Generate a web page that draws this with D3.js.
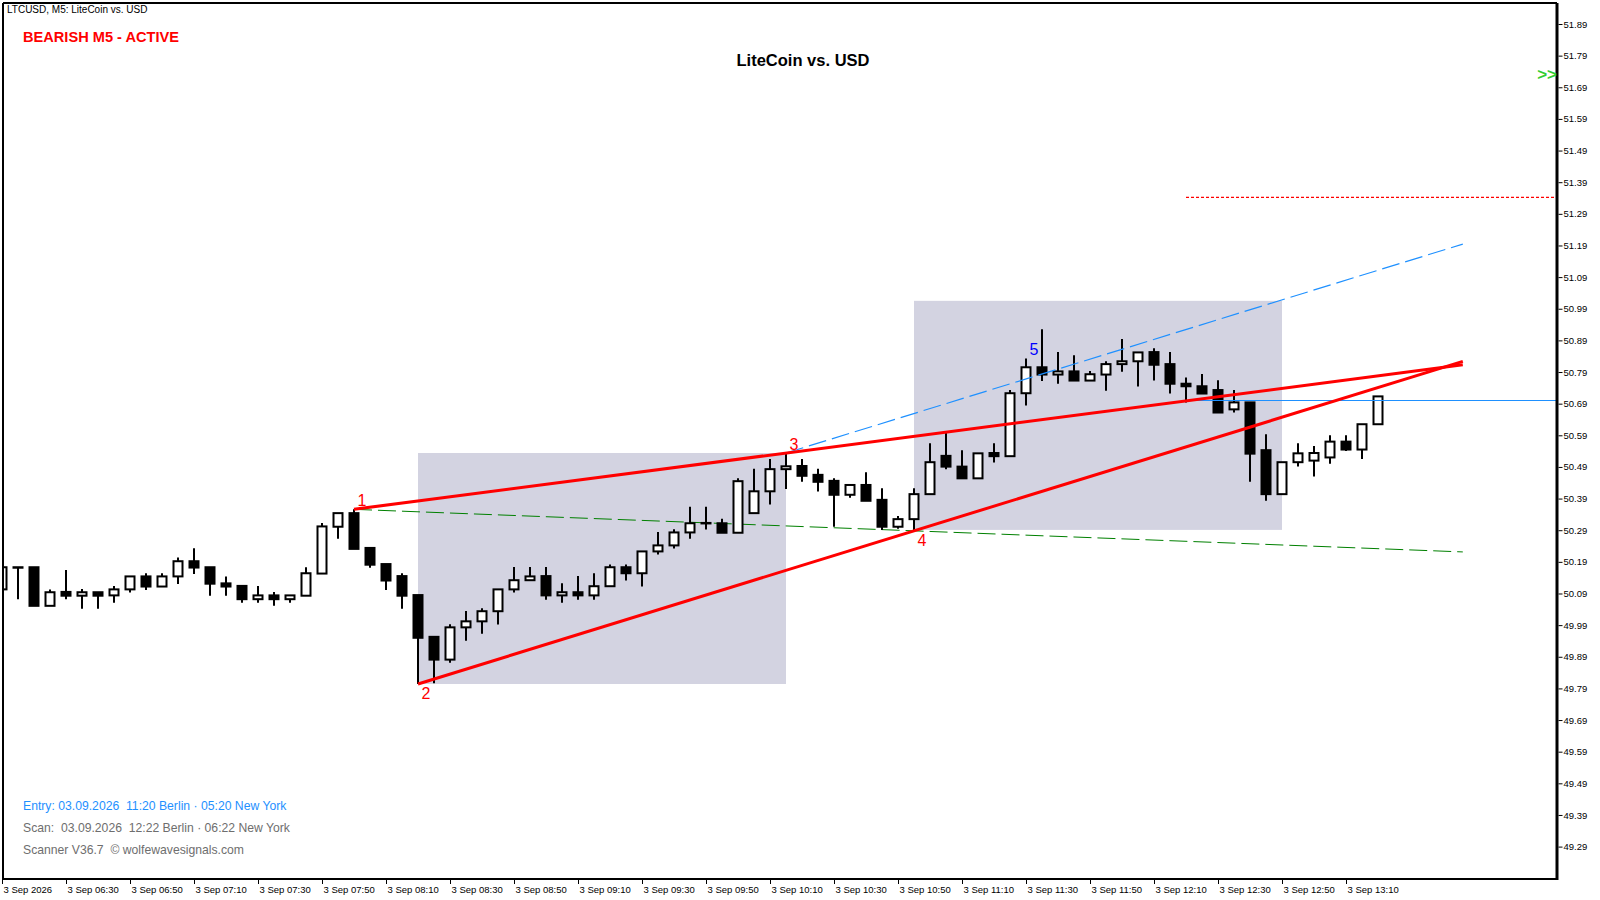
<!DOCTYPE html>
<html><head><meta charset="utf-8">
<script src="https://cdn.jsdelivr.net/npm/d3@7"></script>
<style>
html,body{margin:0;padding:0;background:#fff;}
svg{display:block;}
text{font-family:"Liberation Sans",Arial,sans-serif;}
</style></head>
<body>
<svg id="c" width="1600" height="900"></svg>
<script>
// ---------- DATA ----------
const opens  = [50.103,50.172,50.173,50.051,50.095,50.083,50.094,50.084,50.103,50.144,50.112,50.144,50.192,50.173,50.122,50.114,50.072,50.084,50.072,50.083,
50.153,50.301,50.344,50.234,50.183,50.145,50.085,49.953,49.881,49.983,50.002,50.034,50.103,50.132,50.145,50.084,50.094,50.084,50.113,50.173,
50.154,50.223,50.242,50.283,50.312,50.312,50.282,50.344,50.413,50.483,50.493,50.465,50.446,50.402,50.433,50.386,50.301,50.325,50.404,50.525,
50.491,50.454,50.534,50.524,50.723,50.805,50.782,50.792,50.763,50.782,50.815,50.824,50.853,50.815,50.753,50.745,50.733,50.672,50.694,50.543,
50.404,50.505,50.510,50.520,50.570,50.545,50.625];
const highs  = [50.173,50.173,50.173,50.103,50.164,50.104,50.094,50.114,50.144,50.154,50.154,50.204,50.233,50.173,50.144,50.114,50.114,50.095,50.084,50.173,
50.313,50.344,50.356,50.234,50.183,50.154,50.085,49.953,49.993,50.035,50.043,50.103,50.174,50.174,50.174,50.122,50.145,50.154,50.182,50.182,
50.223,50.284,50.293,50.364,50.364,50.326,50.454,50.484,50.515,50.534,50.515,50.484,50.454,50.433,50.473,50.423,50.335,50.423,50.565,50.598,
50.543,50.533,50.565,50.733,50.833,50.925,50.853,50.843,50.793,50.824,50.894,50.852,50.865,50.853,50.773,50.784,50.764,50.733,50.694,50.593,
50.505,50.565,50.556,50.590,50.590,50.620,50.713];
const lows   = [50.103,50.072,50.051,50.051,50.072,50.042,50.042,50.061,50.093,50.101,50.112,50.120,50.152,50.083,50.083,50.061,50.061,50.051,50.061,50.083,
50.153,50.263,50.231,50.171,50.101,50.042,49.804,49.806,49.871,49.941,49.963,49.992,50.093,50.132,50.070,50.061,50.070,50.070,50.113,50.131,
50.112,50.213,50.232,50.263,50.292,50.282,50.282,50.344,50.371,50.420,50.443,50.412,50.301,50.393,50.383,50.291,50.295,50.288,50.404,50.483,
50.454,50.454,50.504,50.524,50.684,50.762,50.753,50.763,50.763,50.731,50.791,50.744,50.763,50.722,50.694,50.722,50.662,50.662,50.443,50.383,
50.404,50.491,50.460,50.500,50.540,50.515,50.625];
const closes = [50.173,50.173,50.051,50.094,50.083,50.094,50.083,50.103,50.144,50.112,50.144,50.192,50.172,50.121,50.112,50.072,50.084,50.072,50.084,50.154,
50.302,50.344,50.231,50.181,50.131,50.083,49.950,49.881,49.983,50.002,50.034,50.103,50.132,50.144,50.084,50.094,50.084,50.113,50.173,50.154,
50.223,50.242,50.283,50.312,50.313,50.282,50.445,50.413,50.483,50.492,50.462,50.443,50.402,50.433,50.383,50.301,50.325,50.404,50.505,50.491,
50.454,50.533,50.524,50.723,50.805,50.782,50.792,50.763,50.783,50.815,50.824,50.852,50.813,50.753,50.745,50.722,50.662,50.694,50.532,50.404,
50.505,50.533,50.534,50.570,50.545,50.625,50.713];

const priceTicks = [51.89,51.79,51.69,51.59,51.49,51.39,51.29,51.19,51.09,50.99,50.89,50.79,50.69,50.59,50.49,50.39,50.29,50.19,50.09,49.99,49.89,49.79,49.69,49.59,49.49,49.39,49.29];
const timeTickBars = [0,4,8,12,16,20,24,28,32,36,40,44,48,52,56,60,64,68,72,76,80,84];
const timeTickLabels = ["3 Sep 2026","3 Sep 06:30","3 Sep 06:50","3 Sep 07:10","3 Sep 07:30","3 Sep 07:50","3 Sep 08:10","3 Sep 08:30","3 Sep 08:50","3 Sep 09:10","3 Sep 09:30","3 Sep 09:50","3 Sep 10:10","3 Sep 10:30","3 Sep 10:50","3 Sep 11:10","3 Sep 11:30","3 Sep 11:50","3 Sep 12:10","3 Sep 12:30","3 Sep 12:50","3 Sep 13:10"];

// wave points: bar index, price, label
const waveBars   = [22, 26, 49, 57, 64];
const wavePrices = [50.356, 49.804, 50.534, 50.288, 50.834];
const waveLabels = ["1","2","3","4","5"];
const apexBar = 91.3;
const zoneBars   = [[26,49],[57,80]];
const zonePrices = [[50.534,49.804],[51.015,50.291]];
const entryPrice = 50.700, targetPrice = 51.342, levelStartBar = 74;

// ---------- SCALES ----------
const svg = d3.select("#c");
const L = 3, R = 1557, T = 3, B = 879;
const x = d3.scaleLinear().domain([0, 100]).range([2, 1602]);
const y = d3.scaleLinear().domain([49.29, 51.89]).range([846.6, 24]);

svg.append("defs").append("clipPath").attr("id","plot")
  .append("rect").attr("x",L).attr("y",T).attr("width",R-L).attr("height",B-T);
const g = svg.append("g").attr("clip-path","url(#plot)");

// zones
zoneBars.forEach((zb,i)=>{
  g.append("rect").attr("x",x(zb[0])).attr("y",y(zonePrices[i][0]))
   .attr("width",x(zb[1])-x(zb[0])).attr("height",y(zonePrices[i][1])-y(zonePrices[i][0]))
   .attr("fill","#D3D3E1");
});

// line helpers
function lineAt(b0,p0,b1,p1,b){ return p0 + (p1-p0)*(b-b0)/(b1-b0); }
// 1-4 line (green dashed)
g.append("line").attr("x1",x(waveBars[0])).attr("y1",y(wavePrices[0]))
  .attr("x2",x(apexBar)).attr("y2",y(lineAt(waveBars[0],wavePrices[0],waveBars[3],wavePrices[3],apexBar)))
  .attr("stroke","#008000").attr("stroke-width",1).attr("stroke-dasharray","18,6");

// candles
const n = opens.length;
const idx = d3.range(n);
const cg = g.append("g");
cg.selectAll("line.w").data(idx).join("line")
  .attr("x1",i=>x(i)).attr("x2",i=>x(i))
  .attr("y1",i=>y(highs[i])).attr("y2",i=>y(lows[i]))
  .attr("stroke","#000").attr("stroke-width",2);
cg.selectAll("rect.b").data(idx).join("rect")
  .attr("x",i=>x(i)-4.5).attr("width",9)
  .attr("y",i=>y(Math.max(opens[i],closes[i])))
  .attr("height",i=>Math.max(0.5, Math.abs(y(opens[i])-y(closes[i]))))
  .attr("fill",i=>closes[i]>=opens[i]?"#fff":"#000")
  .attr("stroke","#000").attr("stroke-width",2);

// horizontal levels
g.append("line").attr("x1",x(levelStartBar)).attr("x2",R).attr("y1",y(entryPrice)).attr("y2",y(entryPrice))
  .attr("stroke","#1E90FF").attr("stroke-width",1.2);
g.append("line").attr("x1",x(levelStartBar)).attr("x2",R).attr("y1",y(targetPrice)).attr("y2",y(targetPrice))
  .attr("stroke","#FF0000").attr("stroke-width",1.3).attr("stroke-dasharray","3,2");

// 3 line parallel to 2-4 (blue dashed)
const slope24 = (wavePrices[3]-wavePrices[1])/(waveBars[3]-waveBars[1]);
g.append("line").attr("x1",x(waveBars[2])).attr("y1",y(wavePrices[2]))
  .attr("x2",x(apexBar)).attr("y2",y(wavePrices[2]+slope24*(apexBar-waveBars[2])))
  .attr("stroke","#1E90FF").attr("stroke-width",1.2).attr("stroke-dasharray","18,6");

// 1-3 and 2-4 red lines
g.append("line").attr("x1",x(waveBars[0])).attr("y1",y(wavePrices[0]))
  .attr("x2",x(apexBar)).attr("y2",y(lineAt(waveBars[0],wavePrices[0],waveBars[2],wavePrices[2],apexBar)))
  .attr("stroke","#FF0000").attr("stroke-width",3);
g.append("line").attr("x1",x(waveBars[1])).attr("y1",y(wavePrices[1]))
  .attr("x2",x(apexBar)).attr("y2",y(lineAt(waveBars[1],wavePrices[1],waveBars[3],wavePrices[3],apexBar)))
  .attr("stroke","#FF0000").attr("stroke-width",3);

// wave labels
waveLabels.forEach((t,i)=>{
  const up = (i%2===0);
  g.append("text").attr("x",x(waveBars[i])+8).attr("y",y(wavePrices[i]) + (up?-3:15))
   .attr("text-anchor","middle").attr("font-size",16)
   .attr("fill", i===4 ? "#0000FF" : "#FF0000").text(t);
});

// ---------- FRAME & AXES ----------
svg.append("line").attr("x1",L).attr("x2",L).attr("y1",T).attr("y2",B).attr("stroke","#000").attr("stroke-width",2);
svg.append("line").attr("x1",L).attr("x2",R).attr("y1",T).attr("y2",T).attr("stroke","#000").attr("stroke-width",2);
svg.append("line").attr("x1",L).attr("x2",R).attr("y1",B).attr("y2",B).attr("stroke","#000").attr("stroke-width",2);
svg.append("line").attr("x1",R).attr("x2",R).attr("y1",T).attr("y2",B+1).attr("stroke","#000").attr("stroke-width",3);

const ya = d3.axisRight(y).tickValues(priceTicks).tickFormat(d=>d.toFixed(2)).tickSize(4).tickPadding(1);
const yg = svg.append("g").attr("transform",`translate(${R+1.5},0)`).call(ya);
yg.select(".domain").remove();
yg.selectAll("text").attr("font-size",9.5).attr("font-family","'Liberation Sans',Arial,sans-serif").attr("fill","#000");
yg.selectAll("line").attr("stroke","#000");

const xa = d3.axisBottom(x).tickValues(timeTickBars).tickFormat((d,i)=>timeTickLabels[i]).tickSize(5).tickPadding(2);
const xg = svg.append("g").attr("transform",`translate(0,${B})`).call(xa);
xg.select(".domain").remove();
xg.selectAll("text").attr("font-size",9.5).attr("text-anchor","start").attr("dx",1)
  .attr("font-family","'Liberation Sans',Arial,sans-serif").attr("fill","#000");
xg.selectAll("line").attr("stroke","#000");

// ---------- TEXTS ----------
svg.append("text").attr("x",7).attr("y",13).attr("font-size",10).text("LTCUSD, M5:  LiteCoin vs. USD");
svg.append("text").attr("x",23).attr("y",41.5).attr("font-size",14.6).attr("font-weight","bold").attr("fill","#FF0000").text("BEARISH M5 - ACTIVE");
svg.append("text").attr("x",803).attr("y",66).attr("text-anchor","middle").attr("font-size",16.5).attr("font-weight","bold").text("LiteCoin vs. USD");
svg.append("text").attr("x",1557).attr("y",80).attr("text-anchor","end").attr("font-size",17).attr("font-weight","bold").attr("fill","#32CD32").text(">>");
svg.append("text").attr("x",23).attr("y",810).attr("font-size",12.2).attr("fill","#1E90FF").attr("xml:space","preserve").text("Entry: 03.09.2026  11:20 Berlin · 05:20 New York");
svg.append("text").attr("x",23).attr("y",832).attr("font-size",12.2).attr("fill","#6E6E6E").attr("xml:space","preserve").text("Scan:  03.09.2026  12:22 Berlin · 06:22 New York");
svg.append("text").attr("x",23).attr("y",854).attr("font-size",12.2).attr("fill","#6E6E6E").attr("xml:space","preserve").text("Scanner V36.7  © wolfewavesignals.com");
</script>
</body></html>
